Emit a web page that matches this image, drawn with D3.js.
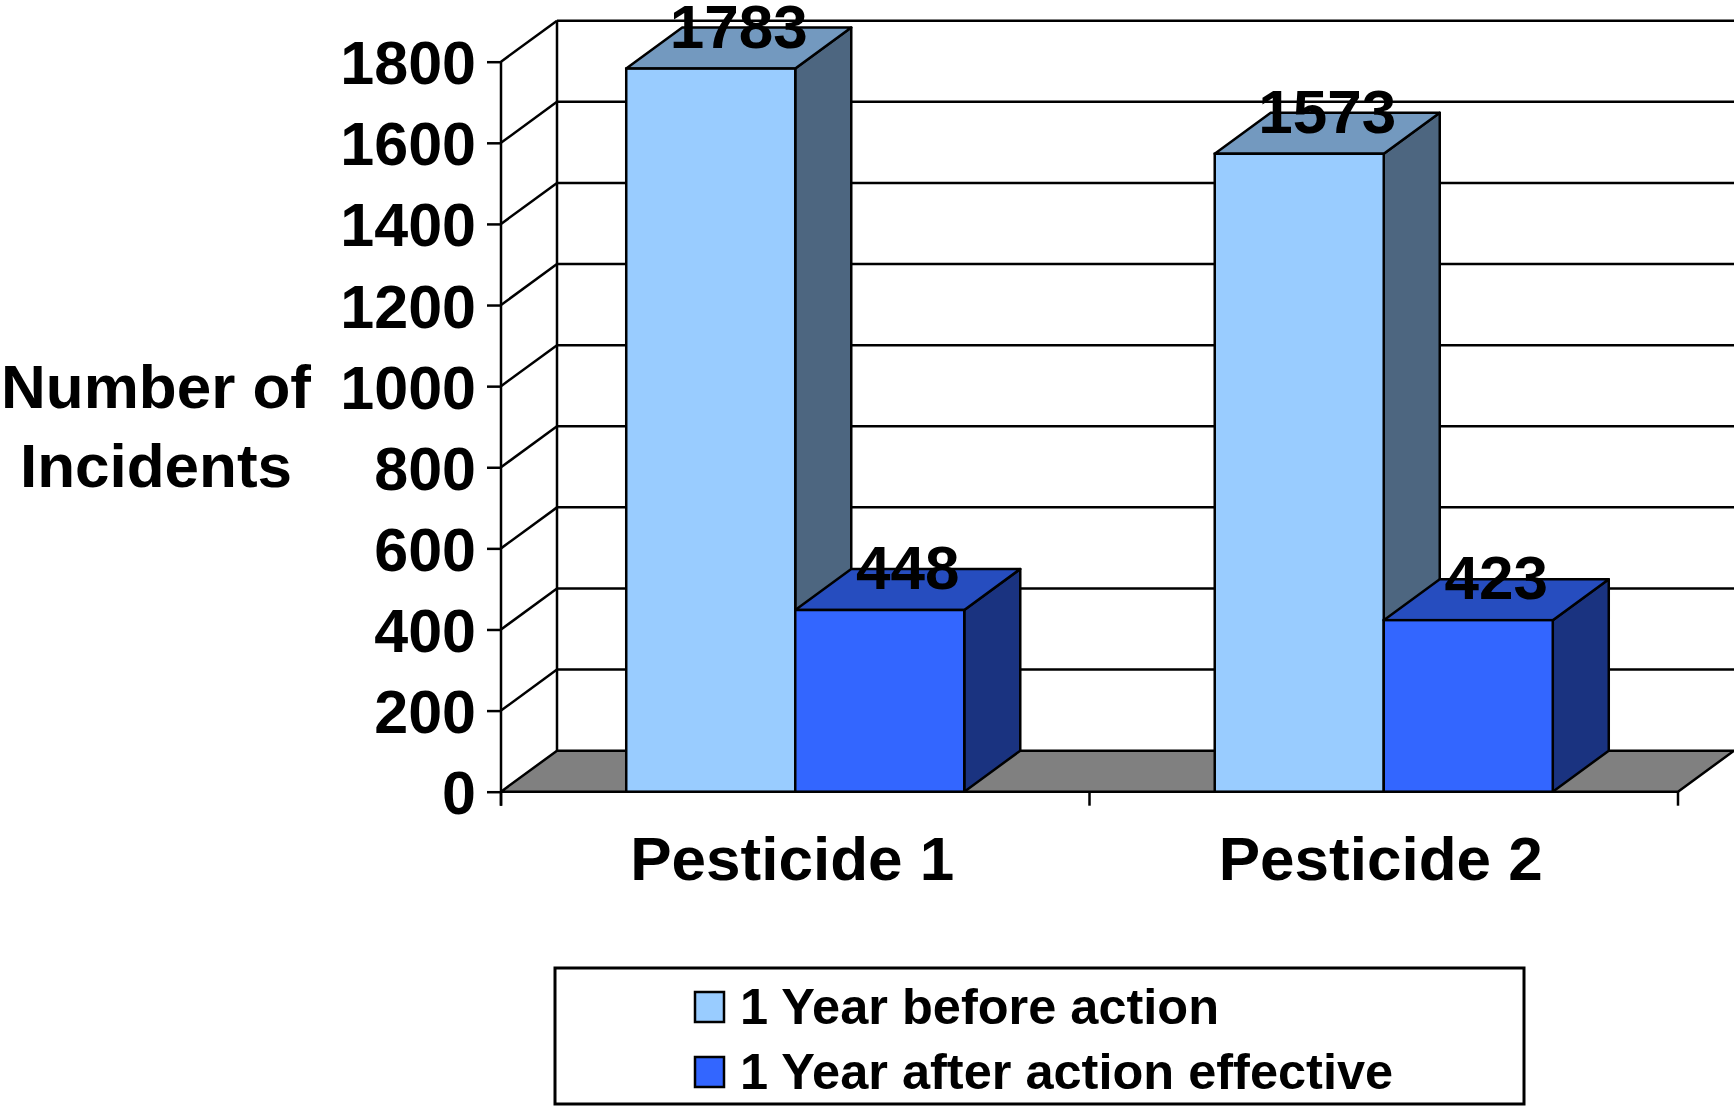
<!DOCTYPE html>
<html>
<head>
<meta charset="utf-8">
<script src="https://cdn.jsdelivr.net/npm/d3@7"></script>
<style>
  body { margin: 0; background: #fff; }
  svg text { font-family: "Liberation Sans", Arial, sans-serif; font-weight: bold; fill: #000; }
</style>
</head>
<body>
<svg id="chart" width="1734" height="1106"></svg>
<script>
// data
const categories = ["Pesticide 1", "Pesticide 2"];
const seriesNames = ["1 Year before action", "1 Year after action effective"];
const beforeValues = [1783, 1573];
const afterValues = [448, 423];
const yTicks = [0, 200, 400, 600, 800, 1000, 1200, 1400, 1600, 1800];
const yTitle = ["Number of", "Incidents"];

const frontColors = ["#99CCFF", "#3366FF"];
const topColors = ["#7399BF", "#264DBF"];
const sideColors = ["#4D6680", "#1A3380"];

const svg = d3.select("#chart");
const dx = 56, dy = -41;   // 3d depth offset
const bigFont = 62;

const y = d3.scaleLinear().domain([0, 1800]).range([791.7, 61.7]);
const x0 = d3.scaleBand().domain(categories).range([501, 1678]);
const x1 = d3.scaleBand().domain(seriesNames).range([0, x0.bandwidth()])
    .paddingInner(0).paddingOuter(0.741);

const xLeft = x0.range()[0], xRight = x0.range()[1];

// back wall gridlines
const g_wall = svg.append("g");
g_wall.selectAll("line.grid").data(yTicks.slice(1)).enter().append("line")
    .attr("x1", xLeft + dx).attr("x2", xRight + dx)
    .attr("y1", d => y(d) + dy).attr("y2", d => y(d) + dy)
    .attr("stroke", "#000").attr("stroke-width", 2.5);

// left wall diagonals
g_wall.selectAll("line.diag").data(yTicks.slice(1)).enter().append("line")
    .attr("x1", xLeft).attr("x2", xLeft + dx)
    .attr("y1", d => y(d)).attr("y2", d => y(d) + dy)
    .attr("stroke", "#000").attr("stroke-width", 2.5);

// back wall left edge
g_wall.append("line")
    .attr("x1", xLeft + dx).attr("x2", xLeft + dx)
    .attr("y1", y(0) + dy).attr("y2", y(1800) + dy)
    .attr("stroke", "#000").attr("stroke-width", 2.5);

// floor
const floorPts = [[xLeft, y(0)], [xRight, y(0)], [xRight + dx, y(0) + dy], [xLeft + dx, y(0) + dy]];
svg.append("path")
    .attr("d", d3.line()(floorPts) + "Z")
    .attr("fill", "#808080").attr("stroke", "#000").attr("stroke-width", 2.5)
    .attr("stroke-linejoin", "round");

// bars
const g_bars = svg.append("g");
categories.forEach(function(cat, i) {
    const vals = [beforeValues[i], afterValues[i]];
    seriesNames.forEach(function(s, j) {
        const xl = x0(cat) + x1(s);
        const xr = xl + x1.bandwidth();
        const yt = y(vals[j]);
        const yb = y(0);
        const side = [[xr, yb], [xr + dx, yb + dy], [xr + dx, yt + dy], [xr, yt]];
        const top = [[xl, yt], [xr, yt], [xr + dx, yt + dy], [xl + dx, yt + dy]];
        g_bars.append("path").attr("d", d3.line()(side) + "Z")
            .attr("fill", sideColors[j]).attr("stroke", "#000").attr("stroke-width", 2.5)
            .attr("stroke-linejoin", "round");
        g_bars.append("path").attr("d", d3.line()(top) + "Z")
            .attr("fill", topColors[j]).attr("stroke", "#000").attr("stroke-width", 2.5)
            .attr("stroke-linejoin", "round");
        g_bars.append("rect")
            .attr("x", xl).attr("y", yt).attr("width", xr - xl).attr("height", yb - yt)
            .attr("fill", frontColors[j]).attr("stroke", "#000").attr("stroke-width", 2.5);
    });
});

// y axis
const yAxis = svg.append("g")
    .attr("transform", "translate(" + xLeft + ",0)")
    .call(d3.axisLeft(y).tickValues(yTicks).tickSize(14).tickSizeOuter(0).tickPadding(11)
        .tickFormat(d3.format("d")));
yAxis.select(".domain").remove();
yAxis.selectAll("line").attr("stroke", "#000").attr("stroke-width", 2.5);
yAxis.selectAll("text").attr("font-size", 61).attr("dy", "0.36em")
    .style("font-family", "'Liberation Sans', Arial, sans-serif").style("font-weight", "bold");
svg.append("line")
    .attr("x1", xLeft).attr("x2", xLeft)
    .attr("y1", y(1800)).attr("y2", y(0) + 14)
    .attr("stroke", "#000").attr("stroke-width", 2.5);

// x axis: baseline ticks between categories
const xBounds = categories.map(c => x0(c)).concat([xRight]);
svg.selectAll("line.xtick").data(xBounds).enter().append("line")
    .attr("x1", d => d).attr("x2", d => d)
    .attr("y1", y(0)).attr("y2", y(0) + 14)
    .attr("stroke", "#000").attr("stroke-width", 2.5);
svg.selectAll("text.cat").data(categories).enter().append("text")
    .attr("x", d => x0(d) + x0.bandwidth() / 2 - 3)
    .attr("y", 880)
    .attr("text-anchor", "middle").attr("font-size", bigFont)
    .text(d => d);

// y title
svg.selectAll("text.ytitle").data(yTitle).enter().append("text")
    .attr("x", 156).attr("y", (d, i) => 408 + i * 79)
    .attr("text-anchor", "middle").attr("font-size", bigFont)
    .text(d => d);

// value labels
categories.forEach(function(cat, i) {
    const vals = [beforeValues[i], afterValues[i]];
    seriesNames.forEach(function(s, j) {
        const xc = x0(cat) + x1(s) + x1.bandwidth() / 2 + dx / 2;
        svg.append("text")
            .attr("x", xc).attr("y", y(vals[j]) - 21)
            .attr("text-anchor", "middle").attr("font-size", bigFont)
            .text(vals[j]);
    });
});

// legend
const g_legend = svg.append("g");
g_legend.append("rect")
    .attr("x", 555).attr("y", 968).attr("width", 969).attr("height", 136)
    .attr("fill", "#fff").attr("stroke", "#000").attr("stroke-width", 3);
seriesNames.forEach(function(s, j) {
    g_legend.append("rect")
        .attr("x", 695).attr("y", 992 + j * 65).attr("width", 29).attr("height", 30)
        .attr("fill", frontColors[j]).attr("stroke", "#000").attr("stroke-width", 2.5);
    g_legend.append("text")
        .attr("x", 740).attr("y", 1024 + j * 65)
        .attr("font-size", 50.5)
        .text(s);
});
</script>
</body>
</html>
